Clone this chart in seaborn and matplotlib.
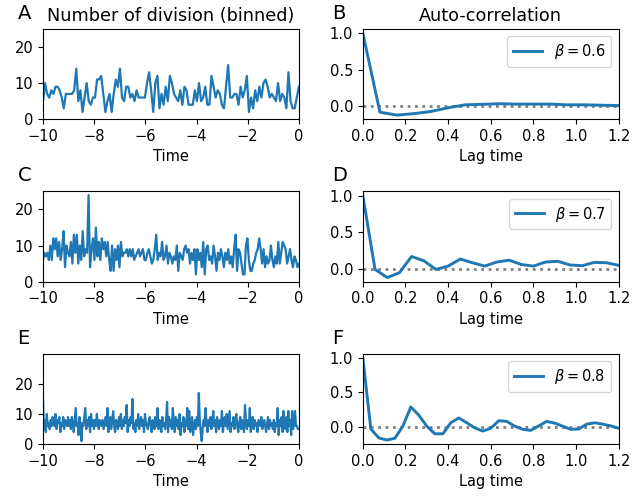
import matplotlib
matplotlib.use("Agg")#Use non-GUI backend for saving images
import matplotlib.pyplot as plt
import seaborn as sns
import numpy as np

#Binned division counts, one list per beta
counts_06 = [
    5, 10, 7, 6, 8, 7, 9, 9, 8, 6, 3, 7, 7,
    7, 7, 8, 14, 5, 8, 2, 6, 10, 5, 4, 6,
    6, 11, 11, 12, 7, 2, 5, 7, 2, 7, 11, 9,
    14, 6, 5, 9, 9, 6, 7, 5, 8, 6, 6, 6, 6,
    10, 13, 8, 2, 10, 12, 3, 7, 4, 9, 5, 12,
    10, 7, 6, 5, 8, 4, 9, 8, 4, 4, 4, 8, 5,
    10, 5, 6, 9, 4, 4, 12, 9, 6, 8, 7, 4,
    3, 9, 15, 6, 6, 7, 7, 4, 9, 6, 8, 12,
    2, 6, 3, 8, 5, 9, 6, 10, 11, 9, 6, 7, 6,
    5, 10, 5, 7, 6, 3, 13, 5, 3, 3, 6, 9,
]
counts_07 = [
    6, 8, 7, 8, 6, 10, 6, 12, 9, 12, 7, 11, 6, 9, 14, 4, 10, 8,
    7, 11, 5, 13, 8, 13, 5, 10, 6, 14, 7, 9, 8, 24, 4, 9, 12,
    6, 15, 7, 11, 6, 12, 9, 11, 7, 11, 6, 3, 10, 3, 9, 6, 10,
    4, 11, 7, 8, 8, 9, 7, 9, 7, 9, 6, 7, 8, 9, 7, 8, 9, 6,
    6, 8, 9, 7, 5, 6, 9, 13, 6, 8, 7, 11, 6, 7, 10, 5, 8,
    7, 5, 7, 6, 10, 3, 8, 7, 6, 9, 10, 8, 9, 5, 8, 6, 9, 2,
    9, 6, 8, 4, 11, 2, 9, 10, 6, 7, 5, 10, 7, 3, 8, 6, 9,
    7, 4, 8, 6, 9, 5, 7, 4, 9, 13, 3, 9, 8, 5, 2, 2, 10, 12,
    6, 3, 3, 5, 6, 8, 9, 12, 9, 5, 9, 4, 7, 5, 6, 10, 6,
    4, 7, 5, 11, 5, 8, 11, 10, 9, 5, 7, 9, 6, 4, 7, 6, 4, 5,
]
counts_08 = [
    15, 5, 8, 4, 10, 6, 7, 5, 8, 6, 9, 7, 6, 10, 5, 8, 7, 9, 4, 7, 6, 9, 5, 8, 7, 6, 9,
    6, 8, 5, 9, 7, 4, 8, 12, 6, 7, 3, 9, 6, 1, 7, 6, 9, 12, 5, 8, 6, 9, 4, 10, 6, 8, 5,
    8, 6, 10, 7, 5, 8, 7, 6, 8, 5, 7, 9, 6, 12, 4, 7, 9, 5, 8, 11, 6, 4, 8, 7, 5, 9,
    6, 10, 5, 8, 6, 9, 7, 13, 4, 8, 6, 9, 7, 15, 5, 7, 4, 8, 6, 10, 5, 7, 9, 6, 8, 4, 10,
    7, 6, 5, 8, 9, 6, 4, 8, 7, 5, 9, 6, 12, 5, 8, 7, 4, 9, 6, 7, 5, 8, 14, 4, 9, 6, 8,
    5, 12, 7, 4, 9, 6, 8, 5, 10, 3, 7, 6, 9, 4, 8, 6, 12, 5, 11, 4, 7, 9, 3, 6, 8, 5,
    9, 6, 17, 8, 4, 1, 5, 8, 6, 12, 7, 4, 8, 6, 9, 5, 7, 11, 6, 8, 4, 9, 7, 5, 8, 6, 11,
    4, 7, 9, 6, 10, 5, 8, 11, 4, 7, 6, 9, 5, 8, 10, 6, 4, 7, 9, 5, 8, 6, 4, 13, 7, 5, 8,
    6, 12, 4, 7, 9, 5, 8, 6, 7, 4, 8, 7, 6, 9, 5, 7, 8, 6, 4, 7, 9, 5, 8, 6, 7, 5,
    8, 4, 7, 6, 12, 3, 8, 6, 9, 4, 11, 7, 5, 9, 4, 11, 6, 8, 3, 11, 5, 7, 11, 6, 6, 5, 5,
]

#Auto-correlation of each series
acf_06 = [1.0, -0.08, -0.12, -0.10, -0.07, -0.02, 0.02, 0.027, 0.035,
          0.03, 0.03, 0.03, 0.02, 0.02, 0.015, 0.01]
acf_07 = [1.0, 0.0, -0.11, -0.045, 0.175, 0.117, 0.0, 0.045, 0.14, 0.09,
          0.045, 0.10, 0.125, 0.067, 0.045, 0.10, 0.11, 0.06, 0.05, 0.095,
          0.09, 0.055]
acf_08 = [1.0, -0.03, -0.16, -0.19, -0.165, 0.01, 0.29, 0.17, 0.01, -0.10,
          -0.10, 0.06, 0.13, 0.06, -0.015, -0.06, -0.02, 0.09, 0.08, 0.01,
          -0.035, -0.05, 0.015, 0.08, 0.055, 0.01, -0.035, -0.03, 0.04, 0.06,
          0.04, 0.015, -0.02]

betas = [0.6, 0.7, 0.8]
series = [counts_06, counts_07, counts_08]
acfs = [acf_06, acf_07, acf_08]
count_ylims = [25, 25, 30]
letters = ["A", "B", "C", "D", "E", "F"]

plt.rcParams["font.size"] = 10.5

fig, axes = plt.subplots(3, 2, figsize=(6.32, 4.99), dpi=100)
fig.subplots_adjust(left=0.068, right=0.979, top=0.942, bottom=0.110,
                    wspace=0.25, hspace=0.8)

for row in range(3):
    ax_l, ax_r = axes[row]

    #Left column: binned counts over time
    counts = series[row]
    t = np.linspace(-10, 0, len(counts))
    sns.lineplot(x=t, y=counts, ax=ax_l, color="#1f77b4", linewidth=1.6)
    ax_l.set_xlim(-10, 0)
    ax_l.set_ylim(0, count_ylims[row])
    ax_l.set_yticks([0, 10, 20])
    ax_l.set_xlabel("Time")

    #Right column: auto-correlation
    acf = acfs[row]
    lag = np.linspace(0, 1.2, len(acf))
    ax_r.axhline(0, color="gray", linestyle=":", linewidth=2)
    sns.lineplot(x=lag, y=acf, ax=ax_r, color="#1f77b4", linewidth=2.1,
                 label=r"$\beta = %.1f$" % betas[row])
    ax_r.set_xlim(0, 1.2)
    ax_r.set_xticks(np.arange(0, 1.21, 0.2))
    ax_r.set_yticks([0.0, 0.5, 1.0])
    ax_r.set_xlabel("Lag time")
    ax_r.legend(loc="upper right")

    ax_l.text(-0.1, 1.11, letters[2 * row], transform=ax_l.transAxes,
              fontsize=14, ha="left", va="baseline")
    ax_r.text(-0.12, 1.11, letters[2 * row + 1], transform=ax_r.transAxes,
              fontsize=14, ha="left", va="baseline")

axes[0, 0].set_title("Number of division (binned)", fontsize=12.7)
axes[0, 1].set_title("Auto-correlation", fontsize=12.7)

plt.savefig("out.png", dpi=100)
plt.close()
